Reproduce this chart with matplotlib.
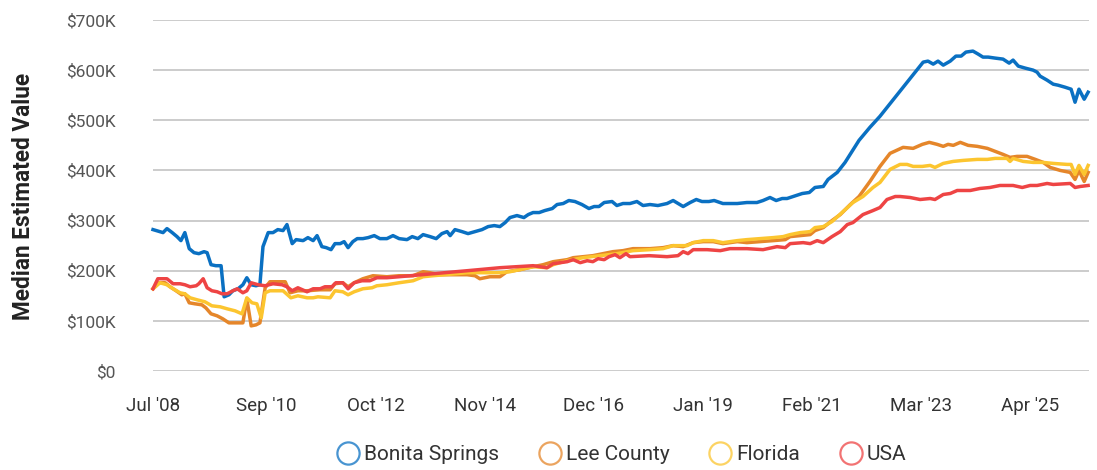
import matplotlib
matplotlib.use("Agg")
import matplotlib.pyplot as plt
from matplotlib.lines import Line2D

plt.rcParams['font.family'] = ['Roboto', 'DejaVu Sans']

# x values are months since Jul 2008
tick_months = [0, 26, 51, 76, 101, 126, 151, 176, 201]
tick_labels = ["Jul '08", "Sep '10", "Oct '12", "Nov '14", "Dec '16", "Jan '19", "Feb '21", "Mar '23", "Apr '25"]
y_ticks = [0, 100, 200, 300, 400, 500, 600, 700]
y_tick_labels = ["$0", "$100K", "$200K", "$300K", "$400K", "$500K", "$600K", "$700K"]

bonita_m = [0, 2.3, 3.2, 4.4, 5.5, 6.4, 7.3, 8.3, 9.4, 10.5, 11.7, 12.4, 13.3, 14.4, 15.6, 16.3, 17.4, 18.3, 19.5,
            20.6, 21.5, 22.5, 23.6, 24.5, 25.2, 26.4, 27.5, 28.6, 29.8, 30.7, 31.9, 32.8, 34.4, 35.5, 36.7, 37.6,
            38.7, 39.7, 40.8, 41.7, 42.9, 43.8, 44.7, 45.8, 46.8, 48.1, 49.3, 50.7, 52.0, 53.6, 55.0, 56.4, 58.2,
            59.4, 60.7, 61.9, 63.5, 64.9, 66.2, 67.4, 68.1, 69.2, 70.8, 72.2, 73.8, 75.4, 76.8, 78.2, 79.5, 80.7,
            81.8, 83.4, 85.0, 86.0, 87.1, 88.5, 89.8, 91.5, 92.6, 94.0, 95.3, 96.7, 98.3, 99.9, 101.1, 102.2, 103.4,
            105.2, 106.3, 107.7, 109.3, 110.9, 112.3, 113.9, 115.7, 117.8, 119.2, 121.5, 123.1, 124.5, 125.8, 127.4,
            128.6, 130.6, 133.9, 136.1, 138.4, 139.8, 141.4, 142.8, 144.2, 145.3, 146.7, 148.8, 150.4, 151.7, 153.6,
            154.7, 156.8, 158.6, 160.2, 161.8, 164.3, 166.6, 176.5, 177.6, 178.8, 179.9, 181.1, 182.7, 184.0, 185.2,
            186.3, 187.9, 189.1, 190.2, 191.4, 193.0, 194.8, 196.2, 197.1, 198.3, 199.9, 201.7, 202.6, 203.3, 204.9,
            206.3, 207.4, 209.0, 210.4, 211.3, 212.2, 213.4, 214.3]
bonita_v = [282, 276, 284, 276, 268, 260, 276, 244, 236, 234, 238, 236, 212, 210, 210, 148, 152, 160, 164,
            172, 186, 172, 170, 172, 248, 276, 276, 282, 280, 292, 254, 262, 260, 266, 260, 270,
            248, 246, 242, 254, 254, 258, 246, 258, 264, 264, 266, 270, 264, 264, 270, 264, 262,
            268, 264, 272, 268, 264, 274, 278, 270, 282, 278, 274, 278, 282, 288, 290, 288, 296,
            306, 310, 306, 312, 316, 316, 320, 324, 332, 334, 340, 338, 332, 324, 328, 328, 336,
            338, 330, 334, 334, 338, 330, 332, 330, 334, 340, 328, 336, 342, 338, 338,
            340, 334, 334, 336, 336, 340, 346, 340, 344, 344, 348, 354, 356, 366, 368,
            382, 396, 416, 438, 460, 486, 508, 616, 618, 612, 618, 610, 618, 628, 628,
            636, 638, 632, 626, 626, 624, 622, 614, 620, 608, 604, 600, 596, 588, 580,
            572, 570, 566, 562, 536, 562, 542, 556]

lee_m = [0, 1.4, 2.8, 3.9, 5.3, 6.6, 7.3, 8.3, 9.6, 11.2, 12.1, 13.3, 14.7, 16.0, 17.4, 19.0, 20.6, 21.5, 22.5,
         23.6, 24.5, 25.7, 26.8, 28.6, 30.3, 31.4, 33.2, 35.3, 38.3, 40.6, 41.7, 43.5, 44.7, 46.1, 48.1, 50.4,
         53.6, 56.4, 59.6, 61.9, 63.5, 65.8, 72.0, 73.8, 74.9, 77.2, 79.5, 81.1, 84.1, 87.1, 89.4, 91.7, 94.9,
         96.3, 98.6, 100.8, 103.1, 105.4, 107.7, 110.0, 113.9, 116.9, 119.2, 121.5, 123.8, 126.1, 128.4, 130.6,
         133.9, 136.1, 139.1, 142.1, 144.9, 146.0, 148.3, 150.6, 151.7, 153.6, 155.6, 157.5, 159.8, 161.8, 164.3,
         166.6, 168.9, 171.9, 174.2, 176.3, 177.9, 179.7, 181.1, 182.2, 183.4, 185.0, 186.8, 188.9, 191.2, 193.0,
         194.8, 196.4, 198.0, 200.3, 202.2, 204.0, 205.6, 207.9, 210.2, 211.3, 212.2, 213.4, 214.3]
lee_v = [164, 176, 176, 168, 160, 152, 154, 136, 134, 132, 126, 114, 110, 104, 96, 96, 96, 144, 90,
         92, 96, 166, 178, 178, 178, 156, 160, 160, 162, 162, 174, 176, 168, 176, 184, 190,
         188, 190, 190, 198, 196, 192, 192, 190, 184, 188, 188, 198, 202, 208, 212, 218, 222,
         226, 228, 230, 234, 238, 240, 244, 244, 246, 250, 248, 256, 258, 258, 254,
         258, 256, 258, 260, 262, 268, 270, 272, 280, 286, 300, 312, 332, 348, 378,
         408, 434, 446, 444, 452, 456, 452, 448, 452, 450, 456, 450, 448, 444, 438,
         432, 426, 428, 428, 422, 416, 406, 400, 396, 382, 400, 378, 396]

fl_m = [0, 1.6, 3.2, 4.6, 6.2, 7.3, 8.5, 10.1, 11.9, 13.5, 15.4, 17.0, 18.8, 20.4, 21.5, 22.7, 23.8, 24.8, 25.7,
        26.8, 29.8, 31.6, 33.2, 35.3, 36.7, 37.8, 40.6, 41.7, 43.5, 44.7, 46.1, 48.1, 50.2, 51.3, 53.6, 56.4,
        59.6, 61.9, 64.2, 72.0, 79.5, 81.8, 87.1, 90.3, 91.7, 94.9, 98.6, 102.5, 106.3, 110.0, 113.9, 116.9,
        119.2, 122.4, 123.8, 126.1, 128.4, 130.6, 133.9, 136.1, 139.1, 142.1, 144.4, 146.0, 148.3, 150.6, 151.7,
        153.6, 155.6, 157.9, 160.4, 162.7, 165.0, 166.6, 168.9, 171.2, 172.8, 174.2, 176.3, 178.1, 179.2, 181.1,
        183.4, 185.7, 188.9, 191.2, 193.0, 195.7, 196.4, 197.1, 199.4, 201.7, 204.0, 206.3, 209.5, 210.4, 211.3,
        212.2, 213.4, 214.3]
fl_v = [164, 176, 172, 164, 156, 154, 146, 142, 138, 130, 128, 124, 120, 114, 146, 136, 134, 106, 156,
        160, 160, 146, 150, 146, 146, 148, 146, 160, 158, 152, 158, 164, 166, 170, 172, 176,
        180, 188, 190, 196, 196, 198, 208, 206, 212, 220, 226, 230, 234, 240, 242, 244,
        250, 250, 256, 260, 260, 256, 260, 262, 264, 266, 268, 272, 276, 278, 286,
        288, 298, 316, 336, 348, 366, 376, 402, 412, 412, 408, 408, 410, 406, 414,
        418, 420, 422, 422, 424, 424, 418, 424, 418, 416, 416, 414, 412, 412, 392,
        410, 392, 410]

usa_m = [0, 1.1, 3.2, 4.6, 6.2, 7.3, 8.5, 9.9, 10.5, 11.5, 12.4, 13.5, 14.7, 15.8, 17.0, 18.3, 19.3, 20.6, 21.5,
         22.5, 24.1, 25.7, 27.5, 29.6, 30.7, 31.9, 33.2, 35.3, 36.7, 38.3, 39.4, 41.0, 41.9, 43.5, 44.7, 46.1,
         47.9, 49.7, 51.3, 53.6, 56.4, 64.2, 72.0, 79.5, 87.1, 90.3, 91.7, 94.9, 96.3, 97.9, 99.5, 100.8, 102.0,
         103.4, 104.5, 105.9, 107.0, 108.4, 109.3, 113.7, 117.8, 120.3, 121.5, 122.6, 123.8, 127.0, 130.0, 132.2,
         136.1, 139.8, 143.0, 144.9, 146.0, 149.0, 150.6, 152.2, 153.6, 155.6, 157.5, 159.1, 160.4, 162.7, 165.0,
         166.6, 168.2, 170.1, 171.2, 173.5, 175.8, 178.1, 179.2, 181.1, 182.7, 184.3, 187.3, 189.5, 191.8, 194.1,
         197.1, 199.2, 201.0, 202.6, 204.9, 206.3, 210.2, 211.3, 212.5, 214.3]
usa_v = [164, 184, 184, 174, 174, 172, 168, 170, 174, 184, 166, 160, 158, 154, 154, 160, 164, 156, 160,
         176, 172, 170, 174, 172, 168, 160, 166, 158, 164, 164, 168, 168, 176, 176, 164, 176,
         180, 180, 186, 186, 188, 194, 200, 206, 210, 206, 214, 218, 222, 216, 220, 218, 224,
         222, 228, 232, 226, 234, 228, 230, 228, 230, 238, 234, 242, 242, 240, 244,
         244, 242, 248, 246, 254, 256, 254, 260, 256, 268, 278, 292, 296, 312, 320,
         326, 342, 348, 348, 346, 342, 344, 342, 352, 354, 360, 360, 364, 366, 370,
         370, 366, 370, 370, 374, 372, 374, 366, 368, 370]

series_names = ["Bonita Springs", "Lee County", "Florida", "USA"]
colors = ["#0a70c2", "#e5862a", "#fcc52f", "#ee4444"]

fig = plt.figure(figsize=(10.97, 4.70), dpi=100)
ax = fig.add_axes([153 / 1097, 99 / 470, (1089 - 153) / 1097, 351 / 470])

data = [(bonita_m, bonita_v), (lee_m, lee_v), (fl_m, fl_v), (usa_m, usa_v)]
for (m, v), c in zip(data, colors):
    ax.plot(m, [val * 1000 for val in v], color=c, lw=2.5, solid_joinstyle='round', clip_on=False, zorder=3)

ax.set_xlim(0, 214.5)
ax.set_ylim(0, 700000)
ax.set_yticks([t * 1000 for t in y_ticks])
ax.set_yticklabels(y_tick_labels)
ax.set_xticks(tick_months)
ax.set_xticklabels(tick_labels)
ax.tick_params(axis='y', length=0, pad=27, labelsize=12.5, labelcolor='#555555')
ax.tick_params(axis='x', length=0, pad=19, labelsize=13.5, labelcolor='#333333')
ax.grid(axis='y', color='#c4c4c4', lw=1.2, zorder=0)
ax.set_axisbelow(True)
for s in ax.spines.values():
    s.set_visible(False)

fig.text(24 / 1097, 1 - 196 / 470, "Median Estimated Value", rotation=90, ha='center', va='center',
         fontsize=16.3, fontweight='bold', color='#222222')

handles = [Line2D([], [], marker='o', linestyle='none', markersize=16, markerfacecolor='none',
                  markeredgecolor=c, markeredgewidth=1.6, alpha=0.75) for c in colors]
fig.legend(handles, series_names, loc='center', bbox_to_anchor=(0.567, 1 - 455 / 470), ncol=4, frameon=False,
           fontsize=15, handlelength=1.0, handletextpad=0.25, columnspacing=1.95, labelcolor='#333333')

fig.savefig("out.png", dpi=100)
